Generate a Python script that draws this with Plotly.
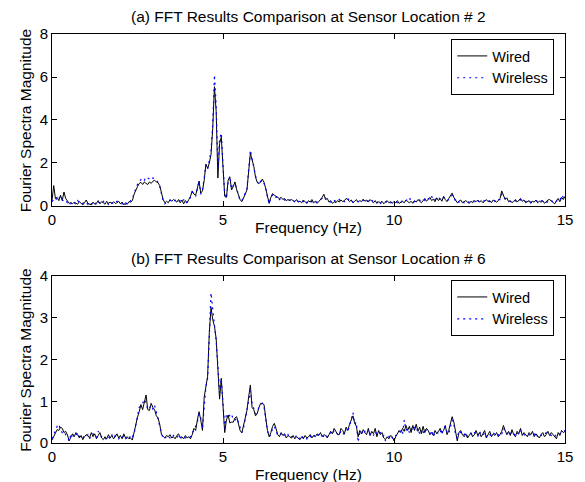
import plotly.graph_objects as go

STEP = 0.05  # frequency resolution (Hz)

# Sensor location #2 (one line per 1 Hz, 20 samples each, final sample at 15 Hz)
wired_2 = [
    0.25, 0.95, 0.35, 0.40, 0.25, 0.50, 0.25, 0.65, 0.35, 0.20, 0.12, 0.15, 0.10, 0.18, 0.12, 0.08, 0.20, 0.12, 0.05, 0.15,
    0.28, 0.12, 0.10, 0.05, 0.18, 0.08, 0.12, 0.25, 0.10, 0.20, 0.15, 0.08, 0.22, 0.12, 0.18, 0.10, 0.20, 0.12, 0.15, 0.22,
    0.10, 0.18, 0.05, 0.15, 0.08, 0.20, 0.18, 0.25, 0.55, 0.75, 0.90, 1.05, 1.10, 1.00, 1.12, 1.05, 1.00, 1.12, 1.05, 1.15,
    1.20, 1.12, 1.08, 0.95, 0.65, 0.30, 0.15, 0.22, 0.15, 0.30, 0.22, 0.30, 0.25, 0.18, 0.30, 0.15, 0.28, 0.10, 0.25, 0.15,
    0.30, 0.45, 0.70, 0.55, 0.50, 0.85, 1.15, 0.60, 0.70, 1.20, 1.95, 1.75, 2.00, 2.40, 3.60, 5.55, 4.40, 1.30, 2.90, 3.20,
    1.80, 0.45, 0.40, 1.20, 1.35, 0.75, 0.90, 1.12, 0.75, 0.55, 0.30, 0.20, 0.35, 0.55, 0.75, 1.60, 2.45, 2.15, 1.85, 1.35,
    1.10, 1.05, 1.10, 1.25, 1.10, 0.80, 0.45, 0.12, 0.40, 0.58, 0.50, 0.45, 0.40, 0.35, 0.40, 0.30, 0.35, 0.25, 0.30, 0.25,
    0.30, 0.25, 0.20, 0.30, 0.18, 0.22, 0.15, 0.28, 0.20, 0.12, 0.25, 0.18, 0.30, 0.15, 0.22, 0.12, 0.20, 0.28, 0.40, 0.55,
    0.30, 0.35, 0.18, 0.25, 0.12, 0.20, 0.15, 0.25, 0.18, 0.28, 0.20, 0.25, 0.35, 0.30, 0.20, 0.28, 0.15, 0.22, 0.30, 0.18,
    0.25, 0.20, 0.32, 0.22, 0.28, 0.18, 0.30, 0.22, 0.15, 0.25, 0.12, 0.20, 0.15, 0.22, 0.10, 0.18, 0.25, 0.15, 0.20, 0.12,
    0.22, 0.15, 0.25, 0.12, 0.18, 0.22, 0.15, 0.28, 0.20, 0.15, 0.22, 0.12, 0.25, 0.18, 0.30, 0.22, 0.15, 0.25, 0.35, 0.22,
    0.30, 0.40, 0.25, 0.32, 0.20, 0.38, 0.25, 0.35, 0.22, 0.45, 0.30, 0.20, 0.35, 0.45, 0.60, 0.40, 0.25, 0.15, 0.22, 0.28,
    0.15, 0.20, 0.25, 0.18, 0.12, 0.22, 0.15, 0.25, 0.20, 0.28, 0.18, 0.25, 0.15, 0.22, 0.30, 0.20, 0.25, 0.15, 0.28, 0.22,
    0.18, 0.25, 0.35, 0.70, 0.45, 0.30, 0.38, 0.20, 0.25, 0.15, 0.22, 0.30, 0.18, 0.25, 0.35, 0.22, 0.28, 0.15, 0.20, 0.25,
    0.12, 0.22, 0.18, 0.28, 0.15, 0.22, 0.18, 0.25, 0.12, 0.20, 0.28, 0.30, 0.22, 0.18, 0.10, 0.25, 0.35, 0.20, 0.40, 0.30,
    0.45,
]
wireless_2 = [
    0.20, 0.30, 0.40, 0.25, 0.35, 0.45, 0.30, 0.20, 0.25, 0.15, 0.20, 0.10, 0.22, 0.15, 0.08, 0.25, 0.18, 0.10, 0.12, 0.20,
    0.15, 0.08, 0.18, 0.10, 0.12, 0.20, 0.05, 0.18, 0.15, 0.10, 0.22, 0.12, 0.15, 0.08, 0.20, 0.15, 0.10, 0.18, 0.22, 0.15,
    0.12, 0.10, 0.18, 0.08, 0.15, 0.12, 0.25, 0.30, 0.60, 0.85, 1.00, 1.15, 1.25, 1.30, 1.20, 1.35, 1.30, 1.25, 1.20, 1.30,
    1.28, 1.20, 1.10, 0.90, 0.55, 0.25, 0.10, 0.18, 0.20, 0.25, 0.30, 0.22, 0.28, 0.30, 0.20, 0.25, 0.18, 0.30, 0.12, 0.20,
    0.25, 0.40, 0.65, 0.60, 0.45, 0.80, 1.20, 0.55, 0.75, 1.30, 1.90, 1.70, 2.10, 2.55, 3.80, 6.10, 4.70, 1.70, 3.10, 3.40,
    1.90, 0.55, 0.35, 1.10, 1.40, 0.80, 0.95, 1.05, 0.80, 0.50, 0.25, 0.25, 0.40, 0.60, 0.80, 1.70, 2.60, 2.20, 1.75, 1.40,
    1.15, 1.00, 1.15, 1.20, 1.05, 0.85, 0.40, 0.10, 0.45, 0.50, 0.55, 0.40, 0.45, 0.30, 0.35, 0.35, 0.28, 0.30, 0.22, 0.28,
    0.25, 0.30, 0.15, 0.25, 0.22, 0.18, 0.25, 0.20, 0.28, 0.15, 0.20, 0.25, 0.18, 0.22, 0.15, 0.20, 0.25, 0.30, 0.35, 0.45,
    0.35, 0.25, 0.22, 0.20, 0.15, 0.25, 0.20, 0.18, 0.30, 0.22, 0.25, 0.20, 0.30, 0.35, 0.22, 0.25, 0.18, 0.25, 0.22, 0.20,
    0.20, 0.28, 0.25, 0.30, 0.20, 0.25, 0.22, 0.28, 0.18, 0.20, 0.15, 0.25, 0.12, 0.18, 0.15, 0.20, 0.18, 0.22, 0.15, 0.18,
    0.18, 0.20, 0.15, 0.22, 0.25, 0.15, 0.20, 0.22, 0.30, 0.40, 0.20, 0.18, 0.20, 0.22, 0.25, 0.28, 0.20, 0.20, 0.30, 0.25,
    0.35, 0.30, 0.45, 0.25, 0.30, 0.35, 0.42, 0.30, 0.28, 0.40, 0.35, 0.25, 0.30, 0.40, 0.50, 0.45, 0.20, 0.25, 0.18, 0.25,
    0.20, 0.15, 0.22, 0.20, 0.18, 0.15, 0.25, 0.20, 0.28, 0.22, 0.20, 0.18, 0.22, 0.25, 0.20, 0.25, 0.20, 0.22, 0.20, 0.25,
    0.20, 0.30, 0.30, 0.55, 0.50, 0.35, 0.30, 0.25, 0.20, 0.22, 0.18, 0.25, 0.22, 0.20, 0.30, 0.25, 0.22, 0.20, 0.25, 0.20,
    0.18, 0.20, 0.22, 0.25, 0.20, 0.18, 0.25, 0.20, 0.18, 0.15, 0.22, 0.25, 0.28, 0.15, 0.20, 0.22, 0.30, 0.25, 0.50, 0.40,
    0.50,
]

# Sensor location #6
wired_6 = [
    0.07, 0.15, 0.25, 0.32, 0.30, 0.38, 0.35, 0.25, 0.28, 0.20, 0.05, 0.12, 0.22, 0.15, 0.25, 0.20, 0.12, 0.18, 0.08, 0.15,
    0.20, 0.18, 0.12, 0.25, 0.15, 0.22, 0.10, 0.18, 0.25, 0.12, 0.08, 0.15, 0.10, 0.20, 0.12, 0.18, 0.10, 0.15, 0.22, 0.12,
    0.18, 0.10, 0.22, 0.12, 0.15, 0.10, 0.12, 0.07, 0.25, 0.50, 0.62, 0.75, 0.92, 0.80, 1.00, 1.15, 0.80, 0.78, 0.95, 0.85,
    0.80, 0.65, 0.60, 0.45, 0.20, 0.15, 0.12, 0.18, 0.15, 0.20, 0.12, 0.15, 0.10, 0.18, 0.22, 0.12, 0.15, 0.10, 0.18, 0.12,
    0.15, 0.10, 0.20, 0.35, 0.30, 0.55, 0.75, 0.55, 0.30, 1.10, 1.32, 1.60, 2.65, 3.25, 2.95, 2.80, 2.50, 1.90, 1.05, 1.55,
    1.00, 0.25, 0.55, 0.67, 0.48, 0.50, 0.50, 0.60, 0.63, 0.45, 0.30, 0.24, 0.40, 0.60, 0.78, 1.10, 1.39, 0.85, 0.80, 0.65,
    0.70, 0.85, 0.95, 0.95, 0.92, 0.60, 0.30, 0.15, 0.25, 0.40, 0.47, 0.35, 0.20, 0.15, 0.25, 0.18, 0.22, 0.12, 0.18, 0.15,
    0.12, 0.18, 0.10, 0.15, 0.12, 0.08, 0.15, 0.10, 0.18, 0.12, 0.15, 0.20, 0.12, 0.18, 0.15, 0.22, 0.18, 0.25, 0.15, 0.20,
    0.18, 0.12, 0.20, 0.28, 0.22, 0.35, 0.28, 0.20, 0.20, 0.35, 0.30, 0.22, 0.38, 0.30, 0.45, 0.55, 0.65, 0.48, 0.40, 0.15,
    0.30, 0.22, 0.32, 0.25, 0.20, 0.35, 0.18, 0.28, 0.22, 0.35, 0.15, 0.30, 0.20, 0.25, 0.12, 0.08, 0.15, 0.10, 0.18, 0.15,
    0.05, 0.15, 0.22, 0.30, 0.25, 0.35, 0.28, 0.42, 0.30, 0.40, 0.25, 0.42, 0.30, 0.45, 0.28, 0.38, 0.22, 0.40, 0.25, 0.35,
    0.30, 0.20, 0.25, 0.18, 0.30, 0.22, 0.28, 0.35, 0.25, 0.30, 0.42, 0.20, 0.30, 0.45, 0.63, 0.50, 0.30, 0.05, 0.25, 0.30,
    0.20, 0.15, 0.22, 0.12, 0.18, 0.25, 0.15, 0.20, 0.30, 0.18, 0.25, 0.15, 0.22, 0.30, 0.12, 0.20, 0.28, 0.15, 0.22, 0.18,
    0.25, 0.15, 0.20, 0.28, 0.42, 0.30, 0.20, 0.28, 0.18, 0.32, 0.20, 0.15, 0.28, 0.22, 0.35, 0.18, 0.25, 0.20, 0.15, 0.25,
    0.20, 0.28, 0.15, 0.22, 0.18, 0.12, 0.20, 0.25, 0.15, 0.20, 0.28, 0.18, 0.25, 0.20, 0.15, 0.10, 0.25, 0.18, 0.30, 0.25,
    0.28,
]
wireless_6 = [
    0.10, 0.20, 0.30, 0.40, 0.45, 0.30, 0.25, 0.28, 0.20, 0.15, 0.05, 0.20, 0.15, 0.22, 0.18, 0.25, 0.15, 0.10, 0.12, 0.18,
    0.15, 0.20, 0.10, 0.18, 0.22, 0.15, 0.12, 0.28, 0.20, 0.15, 0.10, 0.12, 0.08, 0.15, 0.10, 0.20, 0.12, 0.18, 0.15, 0.10,
    0.15, 0.12, 0.18, 0.10, 0.12, 0.08, 0.20, 0.15, 0.22, 0.45, 0.65, 0.85, 0.90, 0.95, 1.05, 0.95, 0.80, 0.85, 0.90, 0.80,
    0.90, 0.75, 0.55, 0.40, 0.25, 0.10, 0.12, 0.15, 0.18, 0.12, 0.10, 0.18, 0.15, 0.12, 0.20, 0.15, 0.10, 0.15, 0.12, 0.10,
    0.12, 0.15, 0.25, 0.30, 0.40, 0.50, 0.70, 0.60, 0.35, 0.95, 1.35, 1.55, 2.80, 3.60, 3.20, 2.85, 2.45, 1.85, 1.20, 1.55,
    0.90, 0.35, 0.70, 0.68, 0.65, 0.70, 0.55, 0.55, 0.60, 0.50, 0.35, 0.25, 0.35, 0.60, 0.80, 1.05, 1.25, 0.95, 0.80, 0.70,
    0.75, 0.85, 0.90, 0.95, 0.85, 0.55, 0.30, 0.15, 0.20, 0.35, 0.40, 0.30, 0.18, 0.20, 0.22, 0.15, 0.20, 0.15, 0.20, 0.12,
    0.15, 0.10, 0.12, 0.18, 0.10, 0.12, 0.18, 0.12, 0.15, 0.10, 0.18, 0.15, 0.20, 0.15, 0.22, 0.18, 0.20, 0.22, 0.18, 0.15,
    0.20, 0.15, 0.18, 0.25, 0.20, 0.30, 0.25, 0.22, 0.18, 0.30, 0.25, 0.20, 0.35, 0.30, 0.40, 0.60, 0.73, 0.45, 0.50, 0.02,
    0.25, 0.30, 0.20, 0.28, 0.22, 0.30, 0.20, 0.25, 0.18, 0.28, 0.20, 0.22, 0.25, 0.15, 0.18, 0.05, 0.12, 0.15, 0.20, 0.12,
    0.10, 0.18, 0.20, 0.25, 0.30, 0.22, 0.55, 0.30, 0.35, 0.25, 0.35, 0.30, 0.38, 0.28, 0.35, 0.22, 0.30, 0.20, 0.35, 0.28,
    0.25, 0.22, 0.30, 0.15, 0.25, 0.28, 0.22, 0.30, 0.20, 0.35, 0.40, 0.25, 0.22, 0.40, 0.55, 0.45, 0.20, 0.10, 0.30, 0.25,
    0.18, 0.20, 0.25, 0.15, 0.20, 0.22, 0.18, 0.25, 0.22, 0.15, 0.28, 0.20, 0.18, 0.25, 0.15, 0.22, 0.20, 0.18, 0.25, 0.20,
    0.22, 0.18, 0.25, 0.22, 0.35, 0.28, 0.22, 0.25, 0.20, 0.28, 0.22, 0.18, 0.25, 0.20, 0.30, 0.22, 0.20, 0.18, 0.22, 0.20,
    0.18, 0.22, 0.20, 0.25, 0.15, 0.20, 0.18, 0.22, 0.20, 0.25, 0.22, 0.20, 0.18, 0.22, 0.20, 0.15, 0.20, 0.22, 0.25, 0.28,
    0.30,
]

x_ticks = [0, 5, 10, 15]
y_ticks_2 = [0, 2, 4, 6, 8]
y_ticks_6 = [0, 1, 2, 3, 4]
titles = ["(a) FFT Results Comparison at Sensor Location # 2",
          "(b) FFT Results Comparison at Sensor Location # 6"]
series_names = ["Wired", "Wireless"]


def freqs(vals):
    return [round(i * STEP, 2) for i in range(len(vals))]


FONT = "Liberation Sans, Arial, Helvetica, sans-serif"
fig = go.Figure()

wired_line = dict(color="black", width=1)
wireless_line = dict(color="#0000ff", width=1.2, dash="2px,4px")

fig.add_trace(go.Scatter(x=freqs(wired_2), y=wired_2, mode="lines", name=series_names[0],
                         line=wired_line, xaxis="x", yaxis="y", legend="legend"))
fig.add_trace(go.Scatter(x=freqs(wireless_2), y=wireless_2, mode="lines", name=series_names[1],
                         line=wireless_line, xaxis="x", yaxis="y", legend="legend"))
fig.add_trace(go.Scatter(x=freqs(wired_6), y=wired_6, mode="lines", name=series_names[0],
                         line=wired_line, xaxis="x2", yaxis="y2", legend="legend2"))
fig.add_trace(go.Scatter(x=freqs(wireless_6), y=wireless_6, mode="lines", name=series_names[1],
                         line=wireless_line, xaxis="x2", yaxis="y2", legend="legend2"))

TOP_DOM = [0.5795, 1.0]
BOT_DOM = [0.0, 0.4083]

axis_common = dict(showline=True, linecolor="black", linewidth=1, mirror="ticks",
                   ticks="inside", ticklen=5, tickcolor="black", tickwidth=1,
                   showgrid=False, zeroline=False,
                   tickfont=dict(family=FONT, size=15, color="black"))

legend_common = dict(xanchor="right", yanchor="top", bgcolor="white",
                     bordercolor="black", borderwidth=1,
                     font=dict(family=FONT, size=14.5), tracegroupgap=0,
                     entrywidth=92, entrywidthmode="pixels", itemwidth=30)

fig.update_layout(
    width=585, height=482,
    margin=dict(l=52, r=15, t=34, b=39),
    paper_bgcolor="white", plot_bgcolor="white",
    font=dict(family=FONT, size=15, color="black"),
    xaxis=dict(domain=[0, 1], anchor="y", range=[0, 15], tickvals=x_ticks, **axis_common),
    yaxis=dict(domain=TOP_DOM, anchor="x", range=[0, 8], tickvals=y_ticks_2, **axis_common),
    xaxis2=dict(domain=[0, 1], anchor="y2", range=[0, 15], tickvals=x_ticks, **axis_common),
    yaxis2=dict(domain=BOT_DOM, anchor="x2", range=[0, 4], tickvals=y_ticks_6, **axis_common),
    legend=dict(x=0.979, y=0.9878, **legend_common),
    legend2=dict(x=0.979, y=0.3985, **legend_common),
    showlegend=True,
)

ann_font = dict(family=FONT, size=15.5, color="black")
annotations = [
    dict(text=titles[0], x=0.5, y=1.0416, xref="paper", yref="paper",
         xanchor="center", yanchor="middle", showarrow=False, font=ann_font),
    dict(text=titles[1], x=0.5, y=0.4523, xref="paper", yref="paper",
         xanchor="center", yanchor="middle", showarrow=False, font=ann_font),
    dict(text="Frequency (Hz)", x=0.5, y=0.5257, xref="paper", yref="paper",
         xanchor="center", yanchor="middle", showarrow=False, font=ann_font),
    dict(text="Frequency (Hz)", x=0.5, y=-0.0758, xref="paper", yref="paper",
         xanchor="center", yanchor="middle", showarrow=False, font=ann_font),
    dict(text="Fourier Spectra Magnitude", x=-0.052, y=0.7897, xref="paper", yref="paper",
         xanchor="center", yanchor="middle", textangle=-90, showarrow=False, font=ann_font),
    dict(text="Fourier Spectra Magnitude", x=-0.052, y=0.2042, xref="paper", yref="paper",
         xanchor="center", yanchor="middle", textangle=-90, showarrow=False, font=ann_font),
]
fig.update_layout(annotations=annotations)

fig.write_html("out.html")
